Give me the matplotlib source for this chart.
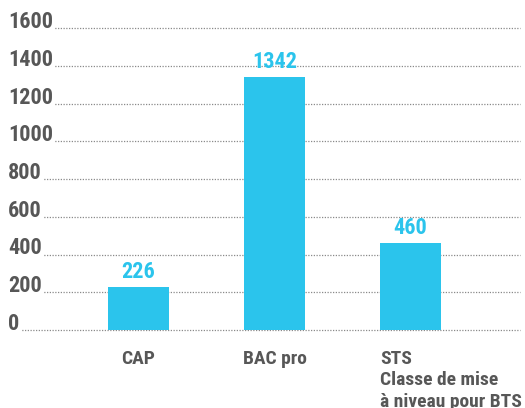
import matplotlib
matplotlib.use('Agg')
import matplotlib.pyplot as plt
import matplotlib.transforms as mtransforms

categories = ['CAP', 'BAC pro', 'STS\nClasse de mise\nà niveau pour BTS']
values = [226, 1342, 460]
yticks = [0, 200, 400, 600, 800, 1000, 1200, 1400, 1600]

bar_color = '#2bc4ec'
text_color = '#575757'
font = ['Roboto Condensed', 'DejaVu Sans']

fig = plt.figure(figsize=(5.25, 4.08), dpi=100)
ax = fig.add_axes([8/525, 78/408, 512/525, 302/408])

x = list(range(len(values)))
ax.bar(x, values, width=0.45, color=bar_color, zorder=3)

# dotted grid lines, the labels sit on white boxes over the start of each line
ytrans = mtransforms.blended_transform_factory(ax.transAxes, ax.transData)
for t in yticks:
    ax.axhline(t, color='#8a8a8a', lw=0.9, ls=(0, (1, 1.2)), zorder=1, clip_on=False)
    ax.text(0, t, str(t), transform=ytrans, ha='left', va='baseline',
            fontsize=16, fontweight='bold', color=text_color, family=font, zorder=2,
            bbox=dict(facecolor='white', edgecolor='none', pad=1.5))

for xi, v in zip(x, values):
    ax.annotate(str(v), (xi, v), xytext=(0, 6.5), textcoords='offset points',
                ha='center', va='baseline', fontsize=16, fontweight='bold',
                color=bar_color, family=font)

xtrans = mtransforms.blended_transform_factory(ax.transData, ax.transAxes)
for xi, lab in zip(x, categories):
    if '\n' in lab:
        ax.text(xi - 0.225, -0.065, lab, transform=xtrans, ha='left', va='top',
                fontsize=14, fontweight='bold', color=text_color, family=font,
                linespacing=1.25)
    else:
        ax.text(xi, -0.065, lab, transform=xtrans, ha='center', va='top',
                fontsize=14, fontweight='bold', color=text_color, family=font)

ax.set_xlim(-0.96, 2.805)
ax.set_ylim(0, 1600)
ax.set_xticks([])
ax.set_yticks([])
for s in ax.spines.values():
    s.set_visible(False)

fig.savefig('out.png', dpi=100)
